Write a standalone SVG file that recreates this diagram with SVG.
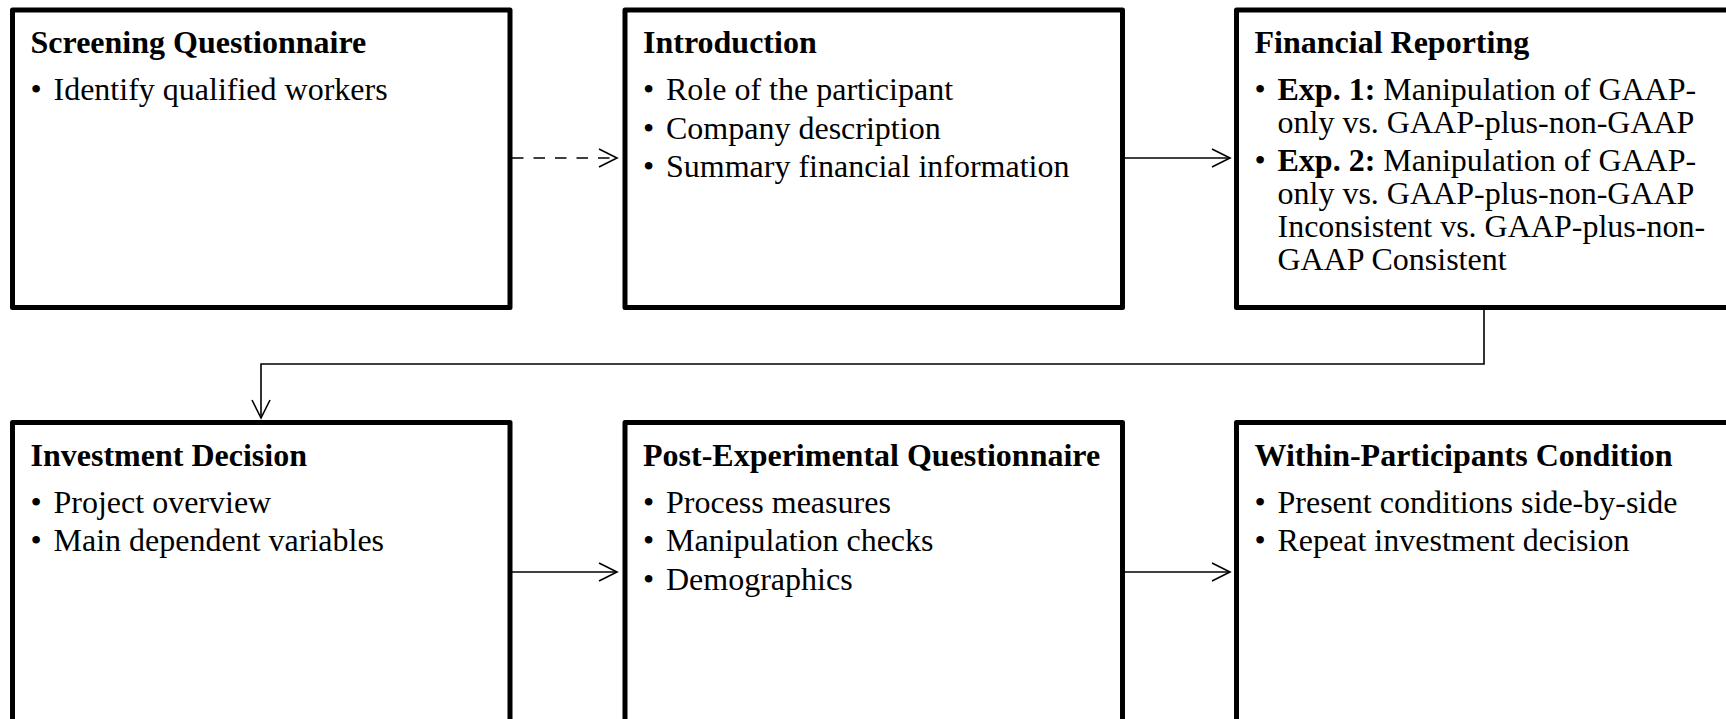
<svg xmlns="http://www.w3.org/2000/svg" width="1726" height="719" viewBox="0 0 1726 719">
<defs>
<style>
.box{fill:#fff;stroke:#000;stroke-width:5;stroke-linejoin:round}
.t{font-family:"Liberation Serif","Times New Roman",serif;font-size:32px;fill:#000}
.b{font-weight:bold}
.c{fill:none;stroke:#000;stroke-width:1.6}
.d{stroke-dasharray:11.5 10}
</style>
<marker id="ah" viewBox="-20 -11 22 22" markerWidth="22" markerHeight="22" refX="0" refY="0" orient="auto" markerUnits="userSpaceOnUse">
<path d="M-18,-9 L0,0 L-18,9" fill="none" stroke="#000" stroke-width="1.6"/>
</marker>
</defs>
<rect width="1726" height="719" fill="#fff"/>

<g id="connectors">
<path class="c d" d="M512,158 H617" marker-end="url(#ah)"/>
<path class="c" d="M1125,158 H1230" marker-end="url(#ah)"/>
<path class="c" d="M1484,310 V364 H261 V418" marker-end="url(#ah)"/>
<path class="c" d="M512,572 H617" marker-end="url(#ah)"/>
<path class="c" d="M1125,572 H1230" marker-end="url(#ah)"/>
</g>

<g id="screening">
<rect class="box" x="12.5" y="10" width="497.5" height="297.5"/>
<text class="t b" x="30.5" y="53">Screening Questionnaire</text>
<text class="t" x="30.5" y="100">•</text>
<text class="t" x="53.5" y="100">Identify qualified workers</text>
</g>

<g id="introduction">
<rect class="box" x="625" y="10" width="497.5" height="297.5"/>
<text class="t b" x="643" y="53">Introduction</text>
<text class="t" x="643" y="100">•</text>
<text class="t" x="666" y="100">Role of the participant</text>
<text class="t" x="643" y="138.5">•</text>
<text class="t" x="666" y="138.5">Company description</text>
<text class="t" x="643" y="177">•</text>
<text class="t" x="666" y="177">Summary financial information</text>
</g>

<g id="financial">
<rect class="box" x="1236.5" y="10" width="500" height="297.5"/>
<text class="t b" x="1254.5" y="53">Financial Reporting</text>
<text class="t" x="1254.5" y="100">•</text>
<text class="t" x="1277.5" y="100"><tspan class="b">Exp. 1:</tspan> Manipulation of GAAP-</text>
<text class="t" x="1277.5" y="133">only vs. GAAP-plus-non-GAAP</text>
<text class="t" x="1254.5" y="171">•</text>
<text class="t" x="1277.5" y="171"><tspan class="b">Exp. 2:</tspan> Manipulation of GAAP-</text>
<text class="t" x="1277.5" y="204">only vs. GAAP-plus-non-GAAP</text>
<text class="t" x="1277.5" y="237">Inconsistent vs. GAAP-plus-non-</text>
<text class="t" x="1277.5" y="270">GAAP Consistent</text>
</g>

<g id="investment">
<rect class="box" x="12.5" y="422.5" width="497.5" height="300"/>
<text class="t b" x="30.5" y="466">Investment Decision</text>
<text class="t" x="30.5" y="512.5">•</text>
<text class="t" x="53.5" y="512.5">Project overview</text>
<text class="t" x="30.5" y="551">•</text>
<text class="t" x="53.5" y="551">Main dependent variables</text>
</g>

<g id="postexp">
<rect class="box" x="625" y="422.5" width="497.5" height="300"/>
<text class="t b" x="643" y="466">Post-Experimental Questionnaire</text>
<text class="t" x="643" y="512.5">•</text>
<text class="t" x="666" y="512.5">Process measures</text>
<text class="t" x="643" y="551">•</text>
<text class="t" x="666" y="551">Manipulation checks</text>
<text class="t" x="643" y="589.5">•</text>
<text class="t" x="666" y="589.5">Demographics</text>
</g>

<g id="within">
<rect class="box" x="1236.5" y="422.5" width="500" height="300"/>
<text class="t b" x="1254.5" y="466">Within-Participants Condition</text>
<text class="t" x="1254.5" y="512.5">•</text>
<text class="t" x="1277.5" y="512.5">Present conditions side-by-side</text>
<text class="t" x="1254.5" y="551">•</text>
<text class="t" x="1277.5" y="551">Repeat investment decision</text>
</g>
</svg>
